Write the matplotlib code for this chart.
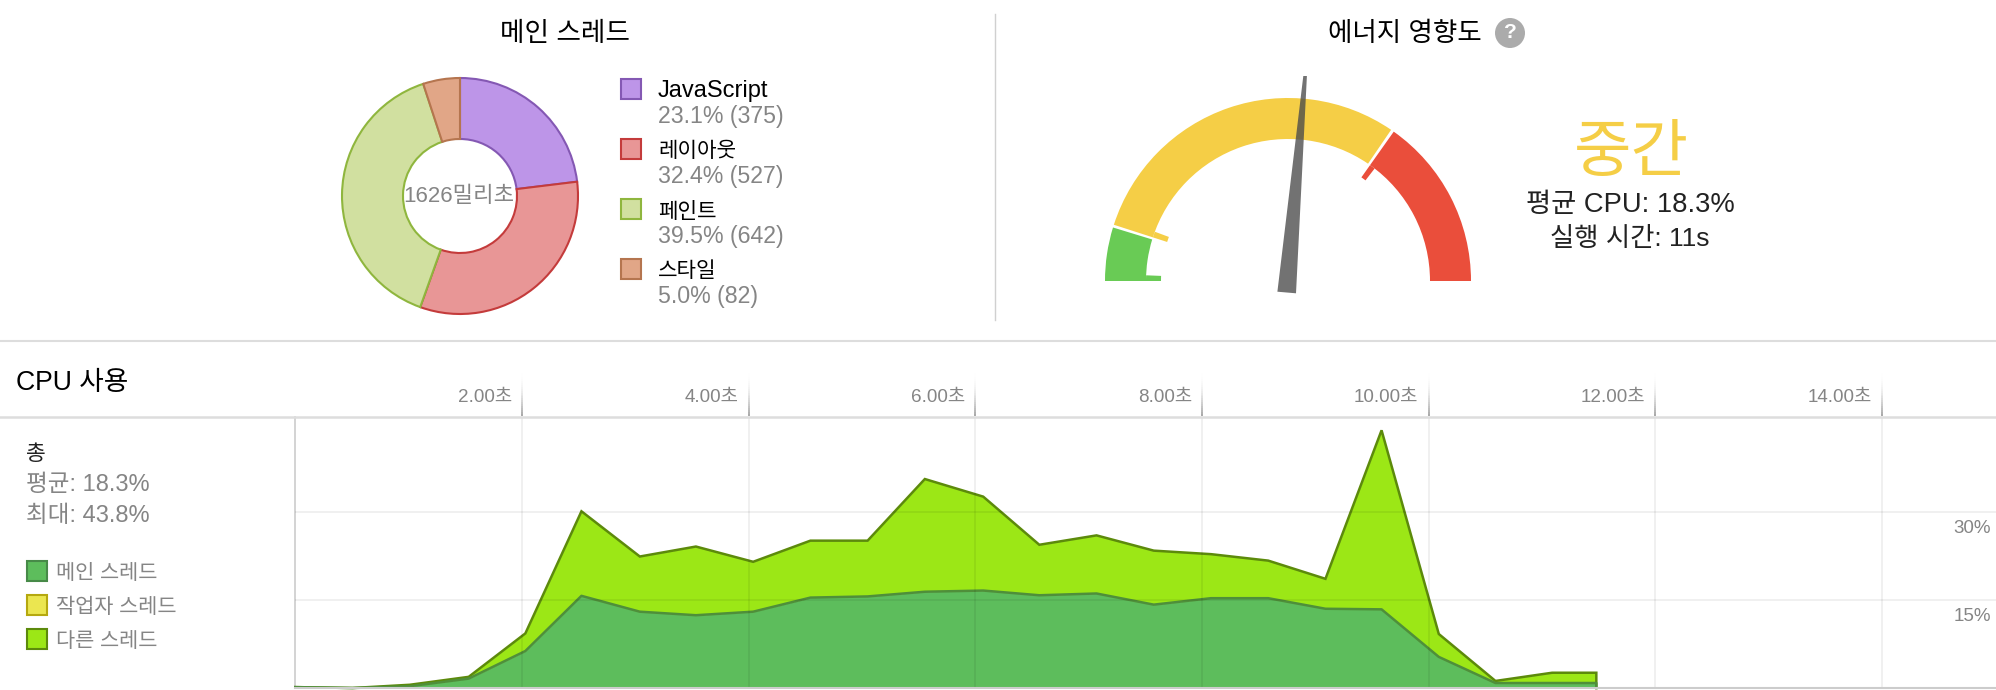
import matplotlib
matplotlib.use("Agg")
import matplotlib.pyplot as plt
from matplotlib.patches import Wedge, Rectangle, Circle, Polygon
import numpy as np

FONT = ['Liberation Sans', 'Noto Sans CJK KR', 'DejaVu Sans']
plt.rcParams['font.family'] = FONT

# ---------- data ----------
pie_labels = ['JavaScript', '레이아웃', '페인트', '스타일']
pie_label_sizes = [17, 15.3, 15.3, 15.3]
pie_values = [375, 527, 642, 82]
pie_texts = ['23.1% (375)', '32.4% (527)', '39.5% (642)', '5.0% (82)']
pie_fills = ['#BD95E8', '#E89696', '#D1E0A0', '#E1A687']
pie_edges = ['#8458B3', '#C43B3B', '#8FB63E', '#B5754F']

time_s = [0.0, 0.505, 1.01, 1.53, 2.03, 2.525, 3.04, 3.535, 4.04, 4.545, 5.05,
          5.555, 6.07, 6.565, 7.07, 7.575, 8.08, 8.585, 9.09, 9.585, 10.09, 10.59,
          11.09, 11.48]
total_cpu = [0.15, 0.0, 0.55, 1.9, 9.3, 30.1, 22.4, 24.1, 21.5, 25.1, 25.1, 35.6,
             32.6, 24.4, 26.0, 23.4, 22.8, 21.7, 18.6, 43.9, 9.2, 1.2, 2.6, 2.6]
main_cpu = [0.15, 0.0, 0.3, 1.6, 6.3, 15.7, 13.0, 12.4, 13.0, 15.4, 15.6, 16.4,
            16.6, 15.8, 16.1, 14.2, 15.3, 15.3, 13.5, 13.4, 5.3, 0.85, 0.85, 0.85]
x_ticks = [2, 4, 6, 8, 10, 12, 14]
y_ticks = [15, 30]
legend_names = ['메인 스레드', '작업자 스레드', '다른 스레드']
legend_fills = ['#5DBD5C', '#EBE650', '#9CE716']
legend_edges = ['#478A48', '#B5A80F', '#5C8A0B']

gauge_green = (163.0, 180.0)
gauge_yellow = (55.7, 162.1)
gauge_red = (0.0, 54.7)

W, H = 1996, 690
PX_S = 113.33
PX_P = 5.87
fig = plt.figure(figsize=(W / 100, H / 100), dpi=100, facecolor='white')

# pixel overlay (y down)
ov = fig.add_axes([0, 0, 1, 1], zorder=5)
ov.set_xlim(0, W)
ov.set_ylim(H, 0)
ov.axis('off')
ov.patch.set_alpha(0)

def T(x, y, s, size, color='#000000', ha='left', va='center', **kw):
    return ov.text(x, y, s, fontsize=size, color=color, ha=ha, va=va, **kw)

GREY = '#858585'

# dividers
ov.plot([0, W], [340.5, 340.5], color='#DDDDDD', lw=1.5)
ov.plot([0, W], [417, 417], color='#DDDDDD', lw=1.8)
ov.plot([995, 995], [14, 320], color='#D0D0D0', lw=1)

# ---------- pie ----------
cx, cy, R = 460, 196, 118
pax = fig.add_axes([(cx - R - 2) / W, 1 - (cy + R + 2) / H, (2 * R + 4) / W, (2 * R + 4) / H])
wedges, _ = pax.pie(pie_values, startangle=90, counterclock=False, radius=R / (R + 2),
                    colors=pie_fills, wedgeprops=dict(width=(R - 57) / (R + 2), linewidth=1.5))
for w, e in zip(wedges, pie_edges):
    w.set_edgecolor(e)
pax.set_xlim(-1, 1)
pax.set_ylim(-1, 1)

T(cx - 1, cy + 1, '1626밀리초', 16, GREY, ha='center')
T(565, 34, '메인 스레드', 19.2, ha='center')

for i, (n, s, t, f, e) in enumerate(zip(pie_labels, pie_label_sizes, pie_texts, pie_fills, pie_edges)):
    y0 = 78 + i * 60
    ov.add_patch(Rectangle((621, y0 + 1), 20, 20, facecolor=f, edgecolor=e, lw=1.5))
    T(658, y0 + 13.5, n, s)
    T(658, y0 + 39, t, 16.7, GREY)

# ---------- gauge ----------
gx, gy, gR, gr = 1288, 281, 183, 142
tab_r = 127
GC, YC, RC = '#69CB55', '#F5CE46', '#EA4E3B'

def band(a0, a1, ro, ri, c):
    ov.add_patch(Wedge((gx, gy), ro, -a1, -a0, width=ro - ri, facecolor=c, edgecolor='none'))

band(*gauge_green, gR, gr, GC)
band(gauge_green[1] - 2.3, gauge_green[1], gr, tab_r, GC)
band(*gauge_yellow, gR, gr, YC)
band(gauge_yellow[1] - 2.4, gauge_yellow[1], gr, tab_r, YC)
band(*gauge_red, gR, gr, RC)
band(gauge_red[1] - 2.3, gauge_red[1], gr, tab_r, RC)

ov.add_patch(Polygon([(1303.3, 76), (1306.9, 76), (1296, 293.3), (1277.4, 291.7)],
                     closed=True, facecolor='#4A4A4A', alpha=0.78, edgecolor='none'))

T(1405, 34, '에너지 영향도', 19.1, ha='center')
ov.add_patch(Circle((1510, 33), 15, facecolor='#ABABAB', edgecolor='none'))
T(1510, 33, '?', 15, 'white', ha='center', fontweight='bold')
T(1631, 154, '중간', 45, YC, ha='center')
T(1630, 205.5, '평균 CPU: 18.3%', 19.7, '#222222', ha='center')
T(1630, 238.5, '실행 시간: 11s', 19, '#222222', ha='center')

# ---------- CPU chart ----------
x0, x1, y_top, y_bot = 295.3, W, 417, 688
ax = fig.add_axes([x0 / W, 1 - y_bot / H, (x1 - x0) / W, (y_bot - y_top) / H], zorder=2)
ax.set_xlim(0, (x1 - x0) / PX_S)
ax.set_ylim(0, (y_bot - y_top) / PX_P)
for s in ('top', 'right', 'bottom'):
    ax.spines[s].set_visible(False)
ax.spines['left'].set_color('#CCCCCC')
ax.spines['left'].set_linewidth(1.2)
ax.set_xticks([])
ax.set_yticks([])

t = np.array(time_s)
total = np.array(total_cpu)
main = np.array(main_cpu)
ax.fill_between(t, main, total, color=legend_fills[2], lw=0, zorder=1, clip_on=False)
ax.fill_between(t, 0, main, color=legend_fills[0], lw=0, zorder=1, clip_on=False)
ax.plot(np.r_[t, t[-1]], np.r_[total, 0], color=legend_edges[2], lw=1.8, zorder=3,
        solid_joinstyle='miter', clip_on=False)
ax.plot(np.r_[t, t[-1]], np.r_[main, 0], color='#4F8F3A', lw=1.8, zorder=3, clip_on=False)

for v in x_ticks:
    ax.axvline(v, color='black', alpha=0.08, lw=1.1, zorder=4)
for v in y_ticks:
    ax.axhline(v, color='black', alpha=0.07, lw=1.2, zorder=4)
ax.axhline(0, color='#CCCCCC', lw=1.5, zorder=4, clip_on=False)

for v in x_ticks:
    px = x0 + v * PX_S
    n = 22
    ys = np.linspace(373, 416, n + 1)
    for k in range(n):
        ov.plot([px, px], [ys[k], ys[k + 1]], color='#999999', lw=1.2,
                alpha=((k + 1) / n) ** 2, solid_capstyle='butt')
    T(px - 10, 397, f'{v:.2f}초', 13.6, GREY, ha='right')
for v in y_ticks:
    T(1991, y_bot - v * PX_P + 17, f'{v}%', 13.5, GREY, ha='right')

T(16, 382.5, 'CPU 사용', 19.2)
T(26, 454, '총', 15.5, '#222222')
T(26, 485, '평균: 18.3%', 17, GREY)
T(26, 516, '최대: 43.8%', 17, GREY)
for i, (n, f, e) in enumerate(zip(legend_names, legend_fills, legend_edges)):
    y0 = 560 + i * 34
    ov.add_patch(Rectangle((27, y0 + 1), 20, 20, facecolor=f, edgecolor=e, lw=1.5))
    T(56, y0 + 13.5, n, 15, GREY)

fig.savefig('out.png', dpi=100)
